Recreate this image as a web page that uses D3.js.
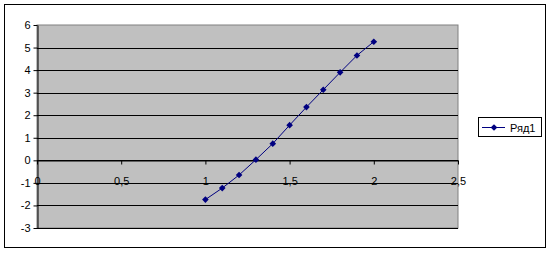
<!DOCTYPE html>
<html>
<head>
<meta charset="utf-8">
<script src="https://cdn.jsdelivr.net/npm/d3@7"></script>
<style>
  body { margin: 0; background: #fff; }
  svg { display: block; font-family: Arial, "Liberation Sans", sans-serif; }
</style>
</head>
<body>
<svg id="chart" width="551" height="253"></svg>
<script>
// data
const xValues = [1, 1.1, 1.2, 1.3, 1.4, 1.5, 1.6, 1.7, 1.8, 1.9, 2];
const yValues = [-1.74, -1.23, -0.65, 0.03, 0.74, 1.56, 2.36, 3.13, 3.9, 4.65, 5.26];
const xTicks = [0, 0.5, 1, 1.5, 2, 2.5];
const yTicks = [-3, -2, -1, 0, 1, 2, 3, 4, 5, 6];
const seriesName = "Ряд1";

const svg = d3.select("#chart");
const margin = { top: 25, left: 37, right: 93, bottom: 25 };
const width = 551, height = 253;

const x = d3.scaleLinear().domain([0, 2.5]).range([margin.left, width - margin.right]);
const y = d3.scaleLinear().domain([-3, 6]).range([height - margin.bottom, margin.top]);

const fmt = d => String(d).replace(".", ",");

// outer frame
svg.append("rect")
  .attr("x", 4.5).attr("y", 4.5)
  .attr("width", 541).attr("height", 243)
  .attr("fill", "#fff").attr("stroke", "#000");

// plot area
svg.append("rect")
  .attr("x", x(0)).attr("y", y(6))
  .attr("width", x(2.5) - x(0)).attr("height", y(-3) - y(6))
  .attr("fill", "#c0c0c0").attr("stroke", "#808080");

// gridlines
svg.append("g")
  .selectAll("line")
  .data(yTicks.filter(d => d !== 6))
  .join("line")
  .attr("x1", x(0)).attr("x2", x(2.5))
  .attr("y1", d => Math.round(y(d)) + 0.5).attr("y2", d => Math.round(y(d)) + 0.5)
  .attr("stroke", "#000");

// y axis
const yAxis = d3.axisLeft(y).tickValues(yTicks).tickSize(4).tickSizeOuter(0).tickFormat(d => d);
svg.append("g")
  .attr("transform", `translate(${Math.round(x(0)) + 0.5},0)`)
  .call(yAxis)
  .call(g => g.select(".domain").attr("stroke", "#000"))
  .call(g => g.selectAll("text").attr("font-size", 11).attr("fill", "#000").attr("x", -7));

// x axis along y = 0
const xAxis = d3.axisBottom(x).tickValues(xTicks).tickSize(4).tickSizeOuter(0).tickFormat(fmt);
svg.append("g")
  .attr("transform", `translate(0,${Math.round(y(0)) + 0.5})`)
  .call(xAxis)
  .call(g => g.select(".domain").attr("stroke", "#000"))
  .call(g => g.selectAll("text").attr("font-size", 11).attr("fill", "#000").attr("dy", "1.55em"));

// series
const pts = xValues.map((d, i) => [d, yValues[i]]);
svg.append("path")
  .datum(pts)
  .attr("fill", "none")
  .attr("stroke", "#000080")
  .attr("stroke-width", 1)
  .attr("d", d3.line().x(d => x(d[0])).y(d => y(d[1])));

const diamond = d3.symbol().type(d3.symbolDiamond2).size(28);
svg.append("g")
  .selectAll("path")
  .data(pts)
  .join("path")
  .attr("transform", d => `translate(${x(d[0])},${y(d[1])})`)
  .attr("d", diamond)
  .attr("fill", "#000080");

// legend
const lg = svg.append("g").attr("transform", "translate(478,117)");
lg.append("rect")
  .attr("x", 0.5).attr("y", 0.5).attr("width", 63).attr("height", 19)
  .attr("fill", "#fff").attr("stroke", "#000");
lg.append("line")
  .attr("x1", 4).attr("x2", 27).attr("y1", 10.5).attr("y2", 10.5)
  .attr("stroke", "#000080");
lg.append("path")
  .attr("transform", "translate(16,10.5)")
  .attr("d", diamond)
  .attr("fill", "#000080");
lg.append("text")
  .attr("x", 32).attr("y", 14.5)
  .attr("font-size", 11)
  .text(seriesName);
</script>
</body>
</html>
